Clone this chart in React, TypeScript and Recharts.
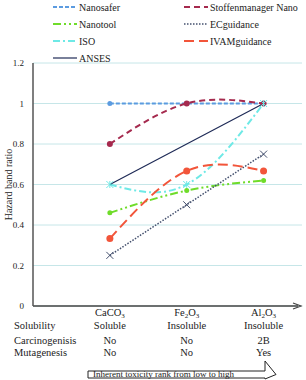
import { LineChart, Line, XAxis, YAxis, CartesianGrid, Customized } from 'recharts';

const positions = [1, 2, 3];
const formulas = [
  ['CaCO', '3', ''],
  ['Fe', '2', 'O', '3'],
  ['Al', '2', 'O', '3'],
];
const solubility = ['Soluble', 'Insoluble', 'Insoluble'];
const carcinogenesis = ['No', 'No', '2B'];
const mutagenesis = ['No', 'No', 'Yes'];
const rowLabels = ['Solubility', 'Carcinogenisis', 'Mutagenesis'];

const nanosafer = [1, 1, 1];
const stoffenmanager = [0.8, 1, 1];
const nanotool = [0.46, 0.57, 0.62];
const ecguidance = [0.25, 0.5, 0.75];
const iso = [0.6, 0.6, 1];
const ivam = [0.333, 0.667, 0.667];
const anses = [0.6, 0.8, 1];

const yTicks = [0, 0.2, 0.4, 0.6, 0.8, 1, 1.2];

const data = positions.map((x, i) => ({
  x,
  nanosafer: nanosafer[i],
  stoffenmanager: stoffenmanager[i],
  nanotool: nanotool[i],
  ecguidance: ecguidance[i],
  iso: iso[i],
  ivam: ivam[i],
  anses: anses[i],
}));

const FONT = '"Liberation Serif", "DejaVu Serif", serif';

type Marker = 'dot' | 'x' | 'star' | 'none';
const series: {
  key: string;
  name: string;
  color: string;
  dash?: string;
  width: number;
  curve: 'linear' | 'natural';
  marker: Marker;
  r: number;
}[] = [
  { key: 'nanosafer', name: 'Nanosafer', color: '#5b9be0', dash: '4 2', width: 2, curve: 'linear', marker: 'dot', r: 2.5 },
  { key: 'stoffenmanager', name: 'Stoffenmanager Nano', color: '#a52a4e', dash: '6 4', width: 2, curve: 'natural', marker: 'dot', r: 3 },
  { key: 'nanotool', name: 'Nanotool', color: '#6fdc2a', dash: '8 3 2 3 2 3', width: 2, curve: 'natural', marker: 'dot', r: 2.5 },
  { key: 'ecguidance', name: 'ECguidance', color: '#44506e', dash: '1.5 1.5', width: 1.5, curve: 'linear', marker: 'x', r: 3.5 },
  { key: 'iso', name: 'ISO', color: '#6ee9e6', dash: '7 3 2 3', width: 2, curve: 'natural', marker: 'star', r: 3.5 },
  { key: 'ivam', name: 'IVAMguidance', color: '#f2553a', dash: '10 5', width: 2, curve: 'natural', marker: 'dot', r: 3.5 },
  { key: 'anses', name: 'ANSES', color: '#1f2b57', width: 1.2, curve: 'linear', marker: 'none', r: 0 },
];

const makeDot = (marker: Marker, color: string, r: number) => (props: any) => {
  const { cx, cy, index } = props;
  if (cx == null || cy == null) return <g key={index} />;
  if (marker === 'dot') return <circle key={index} cx={cx} cy={cy} r={r} fill={color} />;
  if (marker === 'x' || marker === 'star')
    return (
      <g key={index} stroke={color} strokeWidth={1}>
        <line x1={cx - r} y1={cy - r} x2={cx + r} y2={cy + r} />
        <line x1={cx - r} y1={cy + r} x2={cx + r} y2={cy - r} />
        {marker === 'star' && <line x1={cx} y1={cy - r} x2={cx} y2={cy + r} />}
      </g>
    );
  return <g key={index} />;
};

const CategoryTick = (props: any) => {
  const { x, payload } = props;
  const i = positions.indexOf(payload.value);
  if (i < 0) return <g />;
  const f = formulas[i];
  return (
    <g fill="#222" textAnchor="middle">
      <text x={x} y={316} fontSize={10.5} fontFamily={FONT}>
        {f[0]}
        <tspan fontSize={7} dy={2}>{f[1]}</tspan>
        {f[2] && <tspan fontSize={10.5} dy={-2}>{f[2]}</tspan>}
        {f[3] && <tspan fontSize={7} dy={2}>{f[3]}</tspan>}
      </text>
      <text x={x} y={329} fontSize={10.5} fontFamily={FONT}>{solubility[i]}</text>
      <text x={x} y={344} fontSize={10.5} fontFamily={FONT}>{carcinogenesis[i]}</text>
      <text x={x} y={356} fontSize={10.5} fontFamily={FONT}>{mutagenesis[i]}</text>
    </g>
  );
};

const Decor = () => {
  const rows = [7, 24, 41, 58];
  return (
    <g>
      {/* legend */}
      {series.map((s, i) => {
        const col = i % 2;
        const row = Math.floor(i / 2);
        const x0 = col === 0 ? 53 : 184;
        const y = rows[row];
        return (
          <g key={s.key}>
            <line x1={x0} y1={y} x2={x0 + 24} y2={y} stroke={s.color} strokeWidth={s.width} strokeDasharray={s.dash} />
            <text x={x0 + 26} y={y + 3.5} fontSize={10} fill="#222" fontFamily={FONT}>{s.name}</text>
          </g>
        );
      })}
      {/* x axis arrow */}
      <line x1={33} y1={306} x2={298} y2={306} stroke="#444" strokeWidth={1.4} />
      <path d="M293,303 L301,306 L293,309" fill="none" stroke="#444" strokeWidth={1.2} />
      {/* row labels */}
      {rowLabels.map((t, i) => (
        <text key={t} x={14} y={[329, 344, 356][i]} fontSize={10.5} fill="#222" fontFamily={FONT}>{t}</text>
      ))}
      {/* toxicity arrow */}
      <path d="M88,371 L265,371 L265,361 L276,374.5 L265,379 L265,378 L88,378 Z" fill="#fff" stroke="#222" strokeWidth={1} />
      <text x={93} y={377} fontSize={9} fill="#222" fontFamily={FONT}>Inherent toxicity rank from low to high</text>
    </g>
  );
};

export default function App() {
  return (
    <div style={{ position: 'absolute', left: 0, top: 0, background: '#fff' }}>
      <LineChart width={306} height={380} data={data} margin={{ top: 63, right: 4, left: 0, bottom: 0 }}>
        <CartesianGrid horizontal vertical={false} stroke="#c6e6e8" />
        <XAxis
          dataKey="x"
          type="number"
          domain={[0, 3.5]}
          ticks={positions}
          axisLine={false}
          tickLine={false}
          height={74}
          tick={<CategoryTick />}
          interval={0}
        />
        <YAxis
          domain={[0, 1.2]}
          ticks={yTicks}
          width={33}
          axisLine={{ stroke: '#555', strokeWidth: 1.5 }}
          tickLine={false}
          tickMargin={3}
          tick={{ fontSize: 9, fill: '#222', fontFamily: FONT }}
          tickFormatter={(v: number) => String(v)}
          label={{ value: 'Hazard band ratio', angle: -90, position: 'insideLeft', offset: 8, style: { fontSize: 10, fontFamily: FONT, fill: '#222', textAnchor: 'middle' } }}
        />
        {series.map((s) => (
          <Line
            key={s.key}
            dataKey={s.key}
            name={s.name}
            type={s.curve}
            stroke={s.color}
            strokeWidth={s.width}
            strokeDasharray={s.dash}
            dot={makeDot(s.marker, s.color, s.r)}
            activeDot={false}
            isAnimationActive={false}
          />
        ))}
        <Customized component={Decor} />
      </LineChart>
    </div>
  );
}
